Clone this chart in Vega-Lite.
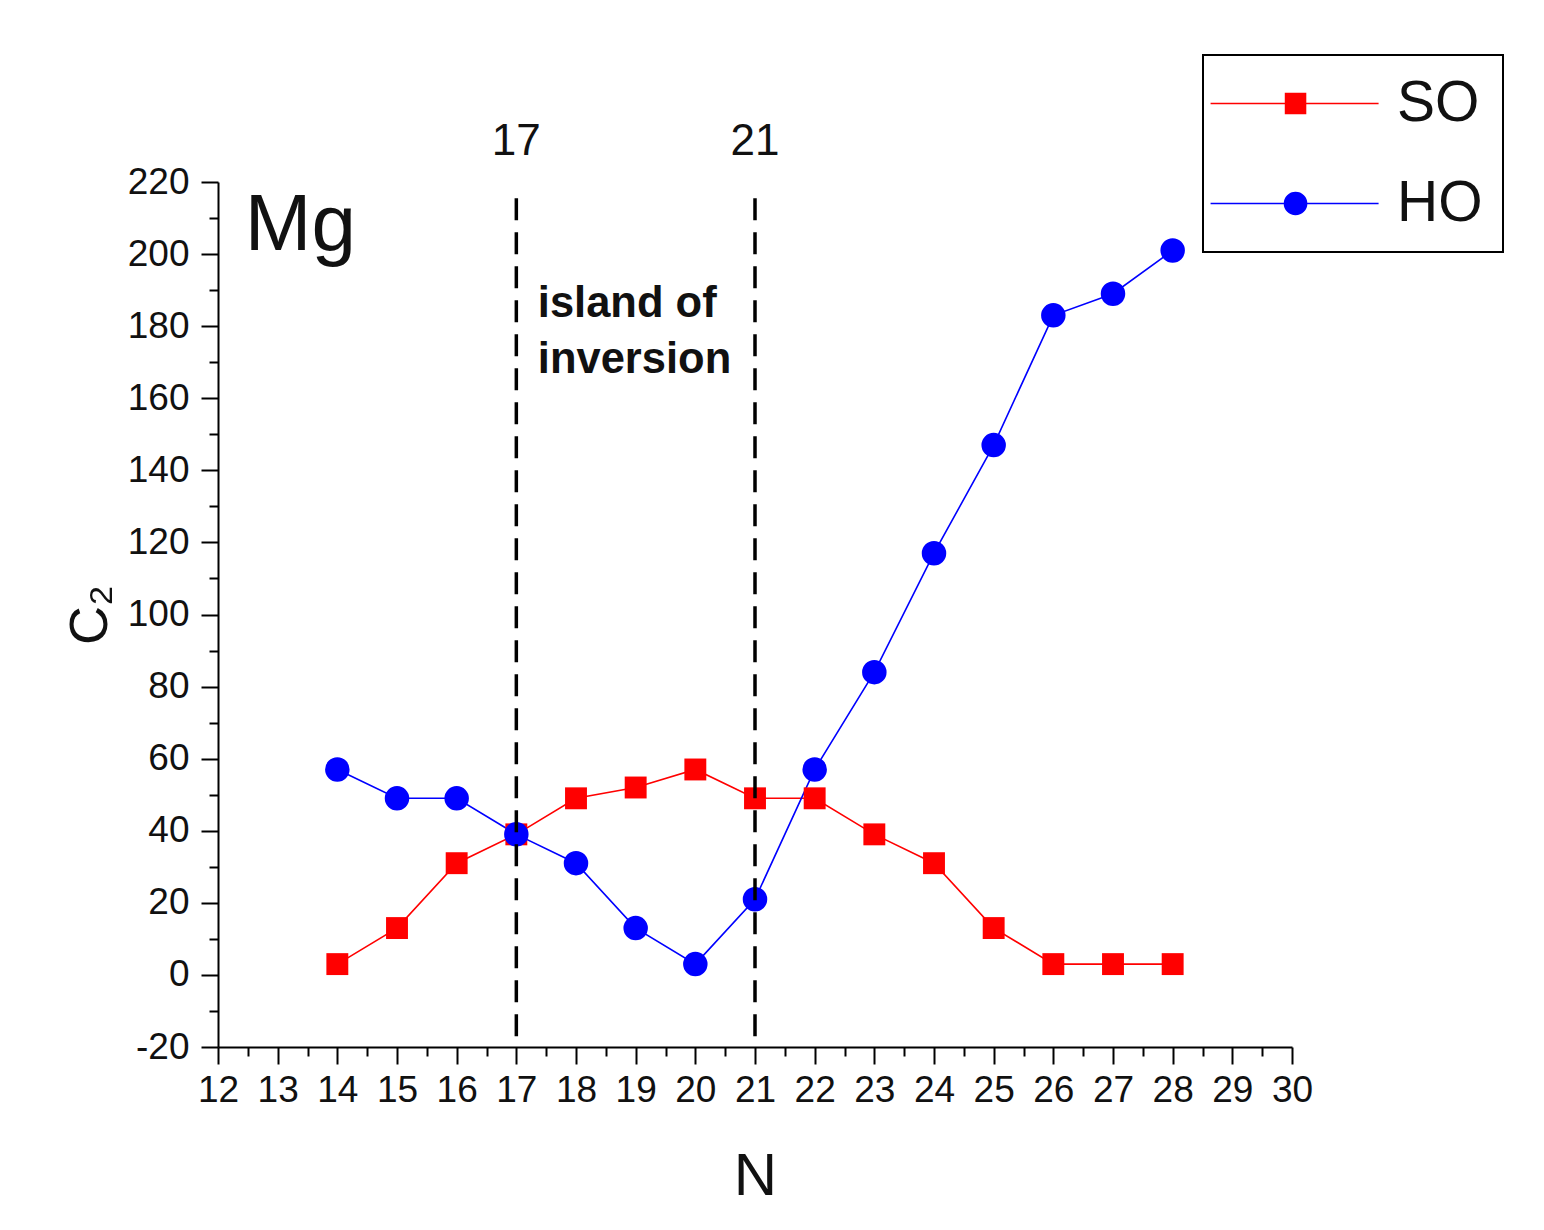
{
  "$schema": "https://vega.github.io/schema/vega-lite/v6.json",
  "width": 1074,
  "height": 865,
  "autosize": {"type": "none"},
  "padding": {"left": 218, "top": 182, "right": 252, "bottom": 183},
  "background": "white",
  "config": {
    "font": "Liberation Sans",
    "view": {"stroke": null},
    "axis": {"grid": false, "domainColor": "black", "tickColor": "black", "labelColor": "#111", "titleColor": "#111", "labelFont": "Liberation Sans", "titleFont": "Liberation Sans"}
  },
  "datasets": {
    "series": [
      {"N": 14, "C": 3, "series": "SO"},
      {"N": 15, "C": 13, "series": "SO"},
      {"N": 16, "C": 31, "series": "SO"},
      {"N": 17, "C": 39, "series": "SO"},
      {"N": 18, "C": 49, "series": "SO"},
      {"N": 19, "C": 52, "series": "SO"},
      {"N": 20, "C": 57, "series": "SO"},
      {"N": 21, "C": 49, "series": "SO"},
      {"N": 22, "C": 49, "series": "SO"},
      {"N": 23, "C": 39, "series": "SO"},
      {"N": 24, "C": 31, "series": "SO"},
      {"N": 25, "C": 13, "series": "SO"},
      {"N": 26, "C": 3, "series": "SO"},
      {"N": 27, "C": 3, "series": "SO"},
      {"N": 28, "C": 3, "series": "SO"},
      {"N": 14, "C": 57, "series": "HO"},
      {"N": 15, "C": 49, "series": "HO"},
      {"N": 16, "C": 49, "series": "HO"},
      {"N": 17, "C": 39, "series": "HO"},
      {"N": 18, "C": 31, "series": "HO"},
      {"N": 19, "C": 13, "series": "HO"},
      {"N": 20, "C": 3, "series": "HO"},
      {"N": 21, "C": 21, "series": "HO"},
      {"N": 22, "C": 57, "series": "HO"},
      {"N": 23, "C": 84, "series": "HO"},
      {"N": 24, "C": 117, "series": "HO"},
      {"N": 25, "C": 147, "series": "HO"},
      {"N": 26, "C": 183, "series": "HO"},
      {"N": 27, "C": 189, "series": "HO"},
      {"N": 28, "C": 201, "series": "HO"}
    ],
    "markers": [
      {"N": 17, "top": 215.5, "bottom": -20, "label": "17", "labelC": 227.5},
      {"N": 21, "top": 215.5, "bottom": -20, "label": "21", "labelC": 227.5}
    ],
    "notes": [
      {"N": 17.36, "C": 182.5, "label": "island of"},
      {"N": 17.36, "C": 167, "label": "inversion"}
    ],
    "element": [
      {"N": 12.45, "C": 201, "label": "Mg"}
    ]
  },
  "resolve": {"axis": {"x": "independent", "y": "independent"}},
  "layer": [
    {
      "data": {"name": "series"},
      "mark": {"type": "line", "strokeWidth": 1.6},
      "encoding": {
        "x": {
          "field": "N", "type": "quantitative",
          "scale": {"domain": [12, 30], "nice": false, "zero": false},
          "axis": {
            "orient": "bottom",
            "values": [12, 13, 14, 15, 16, 17, 18, 19, 20, 21, 22, 23, 24, 25, 26, 27, 28, 29, 30],
            "format": "d",
            "labelFontSize": 37,
            "labelPadding": 8,
            "tickSize": 17,
            "tickWidth": 2,
            "domainWidth": 2,
            "labelFlush": false,
            "labelOverlap": false,
            "title": "N",
            "titleFontSize": 60,
            "titleFontWeight": "normal",
            "titlePadding": 39
          }
        },
        "y": {
          "field": "C", "type": "quantitative",
          "scale": {"domain": [-20, 220], "nice": false, "zero": false},
          "axis": {
            "orient": "left",
            "values": [-20, 0, 20, 40, 60, 80, 100, 120, 140, 160, 180, 200, 220],
            "labelExpr": "datum.value < 0 ? '-' + abs(datum.value) : '' + datum.value",
            "labelFontSize": 37,
            "labelPadding": 12,
            "tickSize": 17,
            "tickWidth": 2,
            "domainWidth": 2,
            "labelFlush": false,
            "labelOverlap": false,
            "title": "C₂",
            "titleFontSize": 54,
            "titleFontWeight": "normal",
            "titlePadding": 10
          }
        },
        "color": {
          "field": "series", "type": "nominal",
          "scale": {"domain": ["SO", "HO"], "range": ["#ff0000", "#0000ff"]},
          "legend": {
            "orient": "none",
            "legendX": 985,
            "legendY": -127,
            "title": null,
            "padding": 20,
            "fillColor": "white",
            "strokeColor": "black",
            "labelFontSize": 57,
            "labelColor": "#111",
            "labelOffset": 117,
            "symbolSize": 576,
            "symbolStrokeWidth": 1.6,
            "rowPadding": 42,
            "encode": {
              "legend": {"update": {"strokeWidth": {"value": 2}}},
              "symbols": {
                "update": {
                  "shape": {"signal": "datum.value === 'SO' ? 'M-3.41,0H10.59M2.84,-0.83H4.5V0.83H2.84Z' : 'M-3.41,0H10.59M4.59,0A0.92,0.92 0 1,1 2.75,0A0.92,0.92 0 1,1 4.59,0Z'"},
                  "fill": {"signal": "datum.value === 'SO' ? '#ff0000' : '#0000ff'"},
                  "stroke": {"signal": "datum.value === 'SO' ? '#ff0000' : '#0000ff'"},
                  "opacity": {"value": 1}
                }
              }
            }
          }
        }
      }
    },
    {
      "data": {"name": "series"},
      "transform": [{"filter": "datum.series === 'SO'"}],
      "mark": {"type": "point", "shape": "square", "filled": true, "size": 480, "opacity": 1},
      "encoding": {
        "x": {"field": "N", "type": "quantitative", "axis": null},
        "y": {"field": "C", "type": "quantitative", "axis": null},
        "color": {"field": "series", "type": "nominal", "legend": null}
      }
    },
    {
      "data": {"name": "series"},
      "transform": [{"filter": "datum.series === 'HO'"}],
      "mark": {"type": "point", "shape": "circle", "filled": true, "size": 600, "opacity": 1},
      "encoding": {
        "x": {"field": "N", "type": "quantitative", "axis": null},
        "y": {"field": "C", "type": "quantitative", "axis": null},
        "color": {"field": "series", "type": "nominal", "legend": null}
      }
    },
    {
      "data": {"name": "markers"},
      "mark": {"type": "rule", "color": "black", "strokeWidth": 3.5, "strokeDash": [22, 12]},
      "encoding": {
        "x": {
          "field": "N", "type": "quantitative",
          "axis": {
            "orient": "bottom",
            "values": [12.5, 13.5, 14.5, 15.5, 16.5, 17.5, 18.5, 19.5, 20.5, 21.5, 22.5, 23.5, 24.5, 25.5, 26.5, 27.5, 28.5, 29.5],
            "labels": false,
            "domain": false,
            "tickSize": 9,
            "tickWidth": 2,
            "title": null
          }
        },
        "y": {
          "field": "top", "type": "quantitative",
          "axis": {
            "orient": "left",
            "values": [-10, 10, 30, 50, 70, 90, 110, 130, 150, 170, 190, 210],
            "labels": false,
            "domain": false,
            "tickSize": 9,
            "tickWidth": 2,
            "title": null
          }
        },
        "y2": {"field": "bottom"}
      }
    },
    {
      "data": {"name": "markers"},
      "mark": {"type": "text", "fontSize": 44, "align": "center", "baseline": "alphabetic", "color": "#111"},
      "encoding": {
        "x": {"field": "N", "type": "quantitative", "axis": null},
        "y": {"field": "labelC", "type": "quantitative", "axis": null},
        "text": {"field": "label"}
      }
    },
    {
      "data": {"name": "notes"},
      "mark": {"type": "text", "fontSize": 43.5, "fontWeight": "bold", "align": "left", "baseline": "alphabetic", "color": "#111"},
      "encoding": {
        "x": {"field": "N", "type": "quantitative", "axis": null},
        "y": {"field": "C", "type": "quantitative", "axis": null},
        "text": {"field": "label"}
      }
    },
    {
      "data": {"name": "element"},
      "mark": {"type": "text", "fontSize": 80, "align": "left", "baseline": "alphabetic", "color": "#111"},
      "encoding": {
        "x": {"field": "N", "type": "quantitative", "axis": null},
        "y": {"field": "C", "type": "quantitative", "axis": null},
        "text": {"field": "label"}
      }
    }
  ]
}
